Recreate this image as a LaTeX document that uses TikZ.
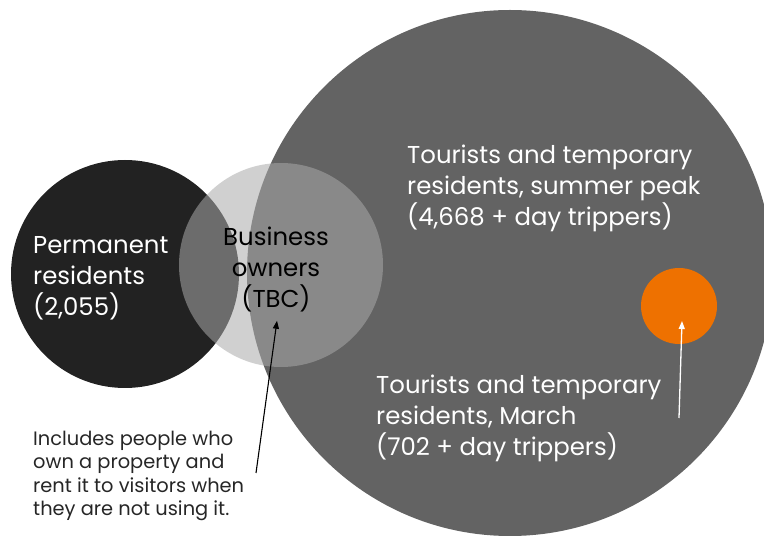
\documentclass[tikz,border=0pt]{standalone}
\usepackage{fontspec}
\setmainfont{Poppins}
\usepackage{tikz}
\usetikzlibrary{positioning,arrows.meta,calc}
\usepackage{xcolor}
\definecolor{bigcircle}{HTML}{636363}
\definecolor{permdark}{HTML}{222222}
\definecolor{bizgray}{HTML}{AAAAAA}
\definecolor{marchorange}{HTML}{EE7100}
\definecolor{notetext}{HTML}{262626}

\tikzset{
  blob/.style={circle, inner sep=0pt, draw=none},
  bigtext/.style={font=\fontsize{24.4}{31}\selectfont, inner sep=0pt},
  smalltext/.style={font=\fontsize{19.4}{23.3}\selectfont, inner sep=0pt, text=notetext}
}

\begin{document}
\begin{tikzpicture}[x=1pt,y=-1pt]
      \useasboundingbox (0,0) rectangle (764,537);

      % the circles
      \node[blob, fill=bigcircle, minimum size=526pt] (tourists) at (510,273) {};
      \node[blob, fill=permdark, minimum size=228pt] (perm) at (125,274) {};
      \node[blob, fill=bizgray, fill opacity=.55, minimum size=204pt] (biz) at (281,265) {};
      \node[blob, fill=marchorange, minimum size=76pt] (march) at (679,306) {};

      % the labels
      \node[bigtext, text=white, align=left, anchor=west] (permlabel) at (33,278)
        {Permanent\\residents\\(2,055)};
      \node[bigtext, text=black, align=center] (bizlabel) at (276,269)
        {Business\\owners\\(TBC)};
      \node[bigtext, text=white, align=left, anchor=west] (peaklabel) at (407,188)
        {Tourists and temporary\\residents, summer peak\\(4,668 + day trippers)};
      \node[bigtext, text=white, align=left, anchor=west] (marchlabel) at (376,418)
        {Tourists and temporary\\residents, March\\(702 + day trippers)};
      \node[smalltext, align=left, anchor=west] (note) at (33,476)
        {Includes people who\\own a property and\\rent it to visitors when\\they are not using it.};

      % the arrows
      \coordinate (notetail) at (256,473);
      \coordinate (marchtail) at (679,418);
      \draw[-{Triangle[length=8pt,width=6pt]}, line width=1.1pt, black] (notetail) -- ($(bizlabel.south)+(1,9)$);
      \draw[-{Triangle[length=8pt,width=6pt]}, line width=1.3pt, white] (marchtail) -- ($(march.center)+(3,15)$);
    \end{tikzpicture}
\end{document}
